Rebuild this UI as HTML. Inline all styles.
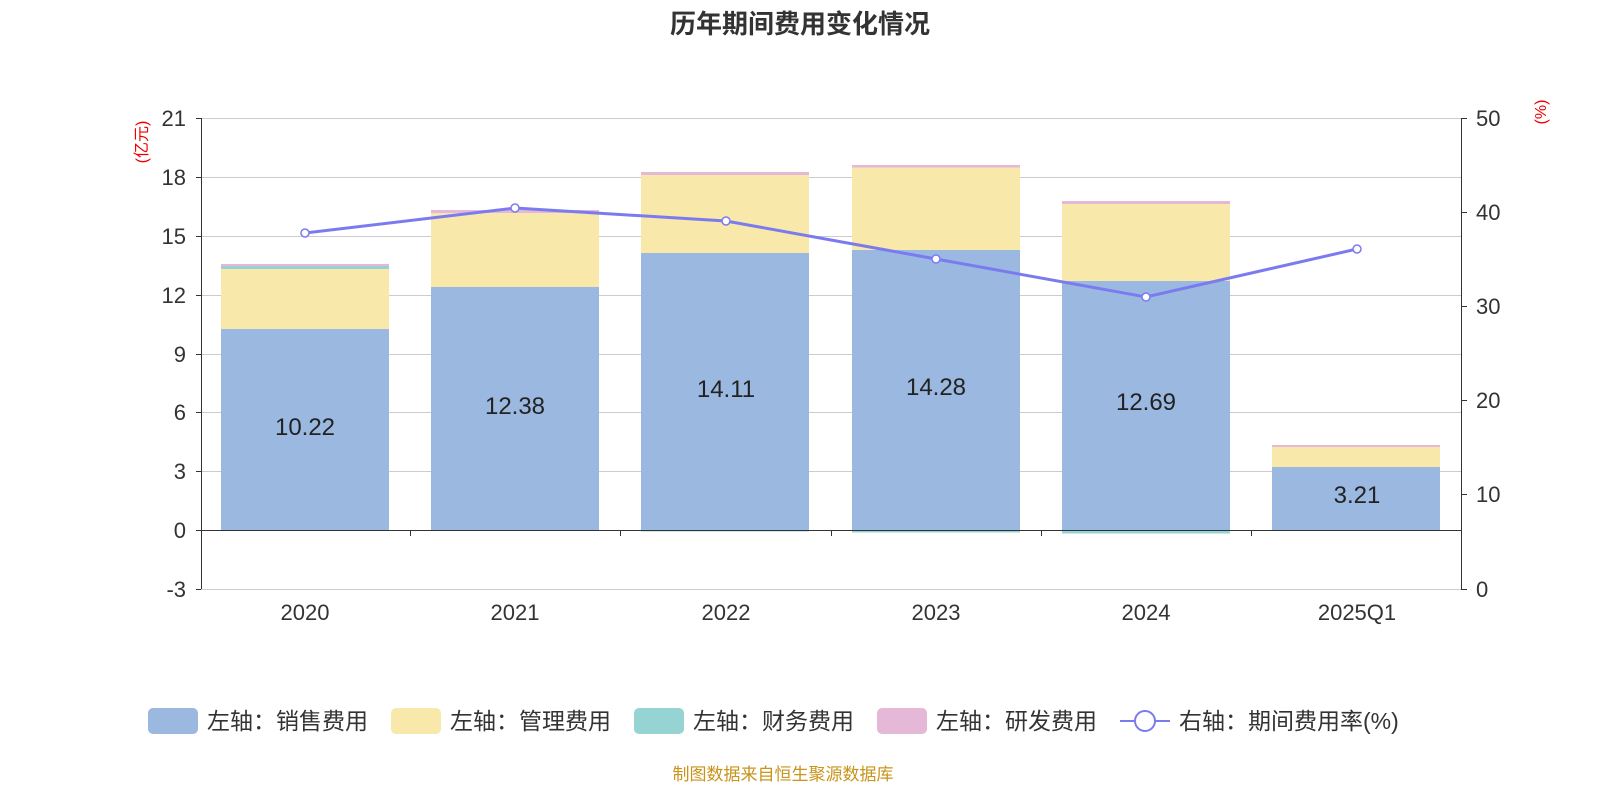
<!DOCTYPE html>
<html><head><meta charset="utf-8"><style>
body{margin:0;background:#fff;}
svg{display:block;font-family:"Liberation Sans","Noto Sans CJK SC",sans-serif;}
</style></head><body>
<svg width="1600" height="800" xmlns="http://www.w3.org/2000/svg">
<text x="800" y="33" text-anchor="middle" font-size="26" font-weight="bold" fill="#333">历年期间费用变化情况</text>
<g stroke="#ccc" stroke-width="1">
<line x1="201" x2="1461" y1="118.5" y2="118.5"/><line x1="201" x2="1461" y1="177.5" y2="177.5"/>
<line x1="201" x2="1461" y1="236.5" y2="236.5"/><line x1="201" x2="1461" y1="295.5" y2="295.5"/>
<line x1="201" x2="1461" y1="354.5" y2="354.5"/><line x1="201" x2="1461" y1="412.5" y2="412.5"/>
<line x1="201" x2="1461" y1="471.5" y2="471.5"/><line x1="201" x2="1461" y1="589.5" y2="589.5"/>
</g>
<g>
<rect x="221" y="329" width="168" height="201" fill="#9bb8e1"/><rect x="221" y="269" width="168" height="60" fill="#f8e8aa"/><rect x="221" y="266" width="168" height="3" fill="#96d3d3"/><rect x="221" y="264" width="168" height="2" fill="#e6b8d8"/>
<rect x="431" y="287" width="168" height="243" fill="#9bb8e1"/><rect x="431" y="213" width="168" height="74" fill="#f8e8aa"/><rect x="431" y="210" width="168" height="3" fill="#e6b8d8"/>
<rect x="641" y="253" width="168" height="277" fill="#9bb8e1"/><rect x="641" y="175" width="168" height="78" fill="#f8e8aa"/><rect x="641" y="172" width="168" height="3" fill="#e6b8d8"/><rect x="641" y="530" width="168" height="1.5" fill="#96d3d3"/>
<rect x="852" y="250" width="168" height="280" fill="#9bb8e1"/><rect x="852" y="167" width="168" height="83" fill="#f8e8aa"/><rect x="852" y="165" width="168" height="2.5" fill="#e6b8d8"/><rect x="852" y="530" width="168" height="2.5" fill="#96d3d3"/>
<rect x="1062" y="281" width="168" height="249" fill="#9bb8e1"/><rect x="1062" y="204" width="168" height="77" fill="#f8e8aa"/><rect x="1062" y="201" width="168" height="3" fill="#e6b8d8"/><rect x="1062" y="530" width="168" height="3.5" fill="#96d3d3"/>
<rect x="1272" y="467" width="168" height="63" fill="#9bb8e1"/><rect x="1272" y="447" width="168" height="20" fill="#f8e8aa"/><rect x="1272" y="445" width="168" height="2" fill="#e6b8d8"/>
</g>
<g font-size="24" fill="#222" text-anchor="middle">
<text x="305" y="435">10.22</text><text x="515" y="414">12.38</text><text x="726" y="397">14.11</text>
<text x="936" y="395">14.28</text><text x="1146" y="410">12.69</text><text x="1357" y="503">3.21</text>
</g>
<g stroke="#333" stroke-width="1">
<line x1="201.5" y1="118" x2="201.5" y2="589"/><line x1="196" x2="201" y1="118.5" y2="118.5"/><line x1="196" x2="201" y1="177.5" y2="177.5"/><line x1="196" x2="201" y1="236.5" y2="236.5"/><line x1="196" x2="201" y1="295.5" y2="295.5"/><line x1="196" x2="201" y1="354.5" y2="354.5"/><line x1="196" x2="201" y1="412.5" y2="412.5"/><line x1="196" x2="201" y1="471.5" y2="471.5"/><line x1="196" x2="201" y1="530.5" y2="530.5"/><line x1="196" x2="201" y1="589.5" y2="589.5"/>
<line x1="1461.5" y1="118" x2="1461.5" y2="589"/>
<line x1="1461" x2="1467" y1="118.5" y2="118.5"/><line x1="1461" x2="1467" y1="212.5" y2="212.5"/><line x1="1461" x2="1467" y1="306.5" y2="306.5"/><line x1="1461" x2="1467" y1="400.5" y2="400.5"/><line x1="1461" x2="1467" y1="494.5" y2="494.5"/><line x1="1461" x2="1467" y1="589.5" y2="589.5"/>
<line x1="201" x2="1461" y1="530.5" y2="530.5"/>
<line x1="410.5" x2="410.5" y1="530" y2="536"/><line x1="620.5" x2="620.5" y1="530" y2="536"/><line x1="831.5" x2="831.5" y1="530" y2="536"/><line x1="1041.5" x2="1041.5" y1="530" y2="536"/><line x1="1251.5" x2="1251.5" y1="530" y2="536"/>
</g>
<g font-size="22" fill="#333" text-anchor="end">
<text x="186" y="126">21</text><text x="186" y="185">18</text><text x="186" y="244">15</text><text x="186" y="303">12</text><text x="186" y="362">9</text><text x="186" y="420">6</text><text x="186" y="479">3</text><text x="186" y="538">0</text><text x="186" y="597">-3</text>
</g>
<g font-size="22" fill="#333">
<text x="1476" y="126">50</text><text x="1476" y="220">40</text><text x="1476" y="314">30</text><text x="1476" y="408">20</text><text x="1476" y="502">10</text><text x="1476" y="597">0</text>
</g>
<g font-size="22" fill="#333" text-anchor="middle">
<text x="305" y="620">2020</text><text x="515" y="620">2021</text><text x="726" y="620">2022</text><text x="936" y="620">2023</text><text x="1146" y="620">2024</text><text x="1357" y="620">2025Q1</text>
</g>
<text transform="translate(147,142) rotate(-90)" font-size="16" fill="#e00" text-anchor="middle">(亿元)</text>
<text transform="translate(1546,112) rotate(-90)" font-size="16" fill="#e00" text-anchor="middle">(%)</text>
<polyline points="305,233 515,208 726,221 936,259 1146,297 1357,249" fill="none" stroke="#7b7bf0" stroke-width="3"/>
<g fill="#fff" stroke="#7b7bf0" stroke-width="1.5">
<circle cx="305" cy="233" r="4"/><circle cx="515" cy="208" r="4"/><circle cx="726" cy="221" r="4"/><circle cx="936" cy="259" r="4"/><circle cx="1146" cy="297" r="4"/><circle cx="1357" cy="249" r="4"/>
</g>
<g font-size="23" fill="#333">
<rect x="148" y="708" width="50" height="26" rx="5" fill="#9bb8e1"/><text x="207" y="729">左轴：销售费用</text>
<rect x="391" y="708" width="50" height="26" rx="5" fill="#f8e8aa"/><text x="450" y="729">左轴：管理费用</text>
<rect x="634" y="708" width="50" height="26" rx="5" fill="#96d3d3"/><text x="693" y="729">左轴：财务费用</text>
<rect x="877" y="708" width="50" height="26" rx="5" fill="#e6b8d8"/><text x="936" y="729">左轴：研发费用</text>
<line x1="1120" x2="1170" y1="721" y2="721" stroke="#7b7bf0" stroke-width="2"/><circle cx="1145" cy="721" r="10" fill="#fff" stroke="#7b7bf0" stroke-width="2"/><text x="1179" y="729">右轴：期间费用率(%)</text>
</g>
<text x="783" y="780" text-anchor="middle" font-size="17" fill="#c8941a">制图数据来自恒生聚源数据库</text>
</svg>
</body></html>
